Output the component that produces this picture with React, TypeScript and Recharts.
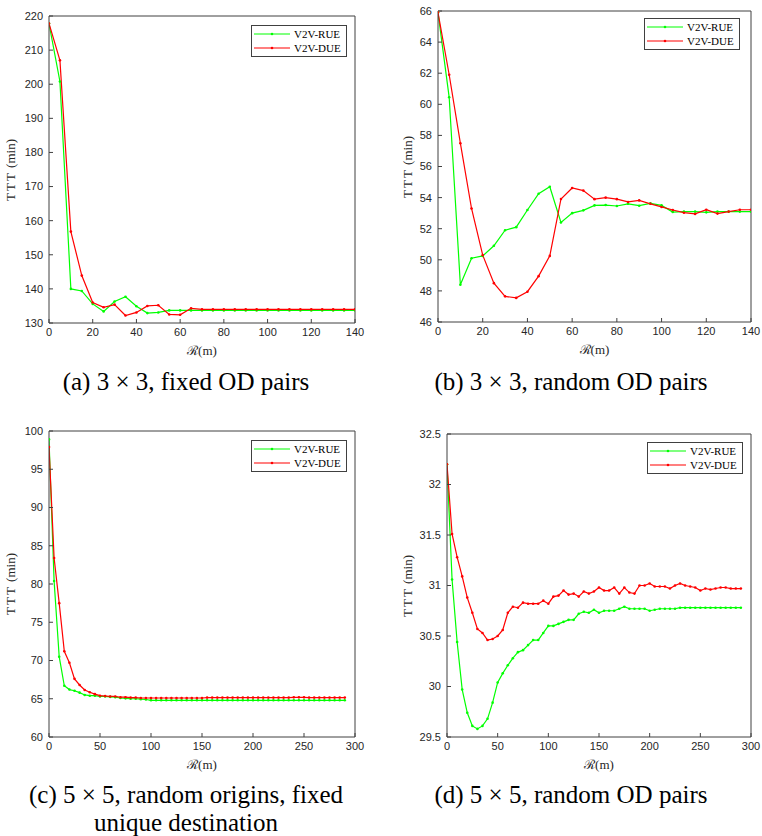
import React from "react";
import {
    LineChart,
    Line,
    XAxis,
    YAxis,
    Legend,
} from "recharts";

// ---- data ----
const radiusSmall = [0, 5, 10, 15, 20, 25, 30, 35, 40, 45, 50, 55, 60, 65, 70, 75, 80, 85, 90, 95, 100, 105, 110, 115, 120, 125, 130, 135, 140];
const radiusLarge = [
    0, 5, 10, 15, 20, 25, 30, 35, 40, 45, 50, 55, 60, 65, 70, 75, 80, 85, 90, 95,
    100, 105, 110, 115, 120, 125, 130, 135, 140, 145, 150, 155, 160, 165, 170, 175, 180, 185, 190, 195,
    200, 205, 210, 215, 220, 225, 230, 235, 240, 245, 250, 255, 260, 265, 270, 275, 280, 285, 290,
];

// (a) 3x3 fixed OD pairs
const rueA = [217.8, 200.8, 140.0, 139.4, 135.6, 133.4, 136.3, 137.7, 134.9, 132.9, 133.1, 133.7, 133.7, 133.7, 133.7, 133.7, 133.7, 133.7, 133.7, 133.7, 133.7, 133.7, 133.7, 133.7, 133.7, 133.7, 133.7, 133.7, 133.7];
const dueA = [217.8, 207.0, 156.8, 143.9, 136.0, 134.6, 135.4, 132.2, 133.1, 135.0, 135.2, 132.5, 132.4, 134.3, 134.0, 134.0, 134.0, 134.0, 134.0, 134.0, 134.0, 134.0, 134.0, 134.0, 134.0, 134.0, 134.0, 134.0, 134.0];

// (b) 3x3 random OD pairs
const rueB = [65.9, 60.45, 48.4, 50.1, 50.25, 50.9, 51.9, 52.1, 53.2, 54.25, 54.7, 52.4, 53.0, 53.18, 53.5, 53.52, 53.46, 53.6, 53.48, 53.63, 53.5, 53.07, 53.1, 53.1, 53.05, 53.1, 53.1, 53.1, 53.1];
const dueB = [65.9, 61.9, 57.5, 53.3, 50.3, 48.5, 47.65, 47.55, 47.95, 48.95, 50.25, 53.91, 54.62, 54.45, 53.9, 54.0, 53.9, 53.72, 53.82, 53.6, 53.4, 53.2, 53.03, 52.95, 53.22, 52.97, 53.1, 53.22, 53.22];

// (c) 5x5 random origins, fixed unique destination
const rueC = [
    98.9, 80.4, 70.5, 66.7, 66.2, 66.05, 65.8, 65.5, 65.4, 65.4, 65.3, 65.3, 65.25, 65.2, 65.1, 65.05, 65.0, 65.0, 64.95, 64.9,
    64.8, 64.8, 64.8, 64.8, 64.8, 64.8, 64.8, 64.8, 64.8, 64.8, 64.8, 64.8, 64.8, 64.8, 64.8, 64.8, 64.8, 64.8, 64.8, 64.8,
    64.8, 64.8, 64.8, 64.8, 64.8, 64.8, 64.8, 64.8, 64.8, 64.8, 64.8, 64.8, 64.8, 64.8, 64.8, 64.8, 64.8, 64.8, 64.8,
];
const dueC = [
    97.9, 83.4, 77.5, 71.2, 69.7, 67.6, 66.8, 66.15, 65.85, 65.6, 65.4, 65.35, 65.3, 65.3, 65.2, 65.2, 65.15, 65.15, 65.1, 65.1,
    65.1, 65.1, 65.1, 65.1, 65.1, 65.1, 65.1, 65.1, 65.1, 65.1, 65.1, 65.15, 65.15, 65.15, 65.15, 65.15, 65.15, 65.15, 65.15, 65.15,
    65.15, 65.15, 65.15, 65.15, 65.15, 65.15, 65.15, 65.15, 65.18, 65.18, 65.18, 65.15, 65.15, 65.15, 65.15, 65.15, 65.15, 65.15, 65.15,
];

// (d) 5x5 random OD pairs
const rueD = [
    32.2, 31.06, 30.44, 29.97, 29.74, 29.61, 29.58, 29.61, 29.68, 29.84, 30.04, 30.13, 30.21, 30.28, 30.34, 30.36, 30.41, 30.46, 30.46, 30.53,
    30.6, 30.6, 30.62, 30.64, 30.66, 30.66, 30.72, 30.74, 30.73, 30.76, 30.73, 30.75, 30.75, 30.75, 30.77, 30.79, 30.77, 30.77, 30.77, 30.77,
    30.75, 30.76, 30.77, 30.77, 30.77, 30.77, 30.78, 30.78, 30.78, 30.78, 30.78, 30.78, 30.78, 30.78, 30.78, 30.78, 30.78, 30.78, 30.78,
];
const dueD = [
    32.2, 31.51, 31.28, 31.09, 30.88, 30.73, 30.57, 30.53, 30.46, 30.47, 30.5, 30.56, 30.73, 30.79, 30.78, 30.83, 30.82, 30.82, 30.82, 30.85,
    30.82, 30.89, 30.9, 30.95, 30.91, 30.92, 30.89, 30.94, 30.92, 30.94, 30.98, 30.95, 30.95, 30.98, 30.92, 30.98, 30.93, 30.92, 31.0, 31.0,
    31.02, 30.99, 30.99, 30.99, 30.97, 31.0, 31.02, 31.0, 30.99, 30.98, 30.95, 30.97, 30.96, 30.97, 30.98, 30.98, 30.97, 30.97, 30.97,
];

const xTicksSmall = [0, 20, 40, 60, 80, 100, 120, 140];
const xTicksLarge = [0, 50, 100, 150, 200, 250, 300];
const yTicksA = [130, 140, 150, 160, 170, 180, 190, 200, 210, 220];
const yTicksB = [46, 48, 50, 52, 54, 56, 58, 60, 62, 64, 66];
const yTicksC = [60, 65, 70, 75, 80, 85, 90, 95, 100];
const yTicksD = [29.5, 30, 30.5, 31, 31.5, 32, 32.5];

const seriesOrder = ["V2V-RUE", "V2V-DUE"];

const GREEN = "#00FF00";
const RED = "#FF0000";
const AXIS = "#404040";
const SERIF = "'Liberation Serif', 'DejaVu Serif', serif";
const SANS = "'Liberation Sans', Arial, sans-serif";

const zip = (r: number[], a: number[], b: number[]) =>
    r.map((x, i) => ({ r: x, rue: a[i], due: b[i] }));

const LegendBox = ({ payload }: any) => {
    const items = [...(payload || [])].sort(
        (a: any, b: any) => seriesOrder.indexOf(a.value) - seriesOrder.indexOf(b.value)
    );
    return (
        <div
            style={{
                display: "inline-block",
                border: `1px solid ${AXIS}`,
                background: "#fff",
                padding: "1px 5px 1px 2px",
                fontFamily: SERIF,
                fontSize: 11,
                lineHeight: "14px",
                color: "#000",
                whiteSpace: "nowrap",
            }}
        >
            {items.map((p: any) => (
                <div key={p.value} style={{ display: "flex", alignItems: "center" }}>
                    <svg width={36} height={14}>
                        <line x1={0} y1={7} x2={36} y2={7} stroke={p.color} strokeWidth={1.2} />
                        <circle cx={18} cy={7} r={1.3} fill={p.color} />
                    </svg>
                    <span style={{ marginLeft: 4 }}>{p.value}</span>
                </div>
            ))}
        </div>
    );
};

type PanelProps = {
    left: number;
    top: number;
    width: number;
    plot: [number, number, number, number]; // x0, x1, y0, y1 on the page
    data: { r: number; rue: number; due: number }[];
    xDomain: [number, number];
    xTicks: number[];
    yDomain: [number, number];
    yTicks: number[];
    legendAt: [number, number];
    yLabelX: number;
};

function Panel(p: PanelProps) {
    const [x0, x1, y0, y1] = p.plot;
    const height = y1 - p.top + 36;
    const margin = {
        left: x0 - p.left - 40,
        right: p.left + p.width - x1 - 1,
        top: y0 - p.top - 1,
        bottom: p.top + height - y1 - 34,
    };
    const tick = { fontFamily: SANS, fontSize: 11, fill: "#262626" };
    return (
        <>
            <div style={{ position: "absolute", left: p.left, top: p.top }}>
                <LineChart width={p.width} height={height} data={p.data} margin={margin}>
                    <XAxis
                        dataKey="r"
                        type="number"
                        domain={p.xDomain}
                        ticks={p.xTicks}
                        allowDataOverflow
                        height={34}
                        stroke={AXIS}
                        tick={tick}
                        tickSize={-4}
                        tickMargin={9}
                        interval={0}
                    />
                    <XAxis
                        xAxisId="top"
                        orientation="top"
                        dataKey="r"
                        type="number"
                        domain={p.xDomain}
                        ticks={p.xTicks}
                        allowDataOverflow
                        height={1}
                        stroke={AXIS}
                        tick={false}
                        tickSize={-4}
                        interval={0}
                    />
                    <YAxis
                        type="number"
                        domain={p.yDomain}
                        ticks={p.yTicks}
                        allowDataOverflow
                        width={40}
                        stroke={AXIS}
                        tick={tick}
                        tickSize={-4}
                        tickMargin={10}
                        interval={0}
                    />
                    <YAxis
                        yAxisId="right"
                        orientation="right"
                        type="number"
                        domain={p.yDomain}
                        ticks={p.yTicks}
                        allowDataOverflow
                        width={1}
                        stroke={AXIS}
                        tick={false}
                        tickSize={-4}
                        interval={0}
                    />
                    <Legend
                        layout="horizontal"
                        verticalAlign="middle"
                        align="center"
                        content={<LegendBox />}
                        wrapperStyle={{ left: p.legendAt[0], top: p.legendAt[1], width: 120, height: "auto", textAlign: "left" }}
                    />
                    <Line
                        name="V2V-RUE"
                        dataKey="rue"
                        stroke={GREEN}
                        strokeWidth={1.2}
                        dot={{ r: 1.3, fill: GREEN, stroke: GREEN, strokeWidth: 0 }}
                        isAnimationActive={false}
                    />
                    <Line
                        name="V2V-DUE"
                        dataKey="due"
                        stroke={RED}
                        strokeWidth={1.2}
                        dot={{ r: 1.3, fill: RED, stroke: RED, strokeWidth: 0 }}
                        isAnimationActive={false}
                    />
                </LineChart>
            </div>
            {/* y label */}
            <div
                style={{
                    position: "absolute",
                    left: p.yLabelX,
                    top: (y0 + y1) / 2,
                    transform: "translate(-50%, -50%) rotate(-90deg)",
                    whiteSpace: "nowrap",
                    fontFamily: SERIF,
                    fontSize: 13,
                    color: "#262626",
                }}
            >
                <span style={{ letterSpacing: 2 }}>TTT</span> (min)
            </div>
            {/* x label */}
            <div
                style={{
                    position: "absolute",
                    left: (x0 + x1) / 2,
                    top: y1 + 27,
                    transform: "translate(-50%, -50%)",
                    whiteSpace: "nowrap",
                    fontFamily: SERIF,
                    fontSize: 13,
                    color: "#262626",
                }}
            >
                ℛ(m)
            </div>
        </>
    );
}

const Caption = ({ cx, cy, lines }: { cx: number; cy: number; lines: string[] }) => (
    <div
        style={{
            position: "absolute",
            left: cx - 190,
            top: cy - 14,
            width: 380,
            textAlign: "center",
            fontFamily: SERIF,
            fontSize: 25,
            lineHeight: "28px",
            color: "#000",
        }}
    >
        {lines.map((l) => (
            <div key={l} style={{ height: 28 }}>{l}</div>
        ))}
    </div>
);

export default function App() {
    return (
        <div style={{ position: "absolute", left: 0, top: 0, width: 762, height: 836, background: "#fff", overflow: "hidden" }}>
            <Panel
                left={0}
                top={0}
                width={370}
                plot={[49, 355, 16, 323]}
                data={zip(radiusSmall, rueA, dueA)}
                xDomain={[0, 140]}
                xTicks={xTicksSmall}
                yDomain={[130, 220]}
                yTicks={yTicksA}
                legendAt={[251, 25]}
                yLabelX={11}
            />
            <Panel
                left={380}
                top={0}
                width={382}
                plot={[438, 751, 11, 322]}
                data={zip(radiusSmall, rueB, dueB)}
                xDomain={[0, 140]}
                xTicks={xTicksSmall}
                yDomain={[46, 66]}
                yTicks={yTicksB}
                legendAt={[264, 18]}
                yLabelX={408}
            />
            <Panel
                left={0}
                top={420}
                width={370}
                plot={[49, 355, 431, 737]}
                data={zip(radiusLarge, rueC, dueC)}
                xDomain={[0, 300]}
                xTicks={xTicksLarge}
                yDomain={[60, 100]}
                yTicks={yTicksC}
                legendAt={[251, 20]}
                yLabelX={11}
            />
            <Panel
                left={380}
                top={420}
                width={382}
                plot={[447, 751, 434, 737]}
                data={zip(radiusLarge, rueD, dueD)}
                xDomain={[0, 300]}
                xTicks={xTicksLarge}
                yDomain={[29.5, 32.5]}
                yTicks={yTicksD}
                legendAt={[267, 22]}
                yLabelX={408}
            />
            <Caption cx={186} cy={382} lines={["(a) 3 × 3, fixed OD pairs"]} />
            <Caption cx={571} cy={382} lines={["(b) 3 × 3, random OD pairs"]} />
            <Caption cx={186} cy={795} lines={["(c) 5 × 5, random origins, fixed", "unique destination"]} />
            <Caption cx={571} cy={795} lines={["(d) 5 × 5, random OD pairs"]} />
        </div>
    );
}
